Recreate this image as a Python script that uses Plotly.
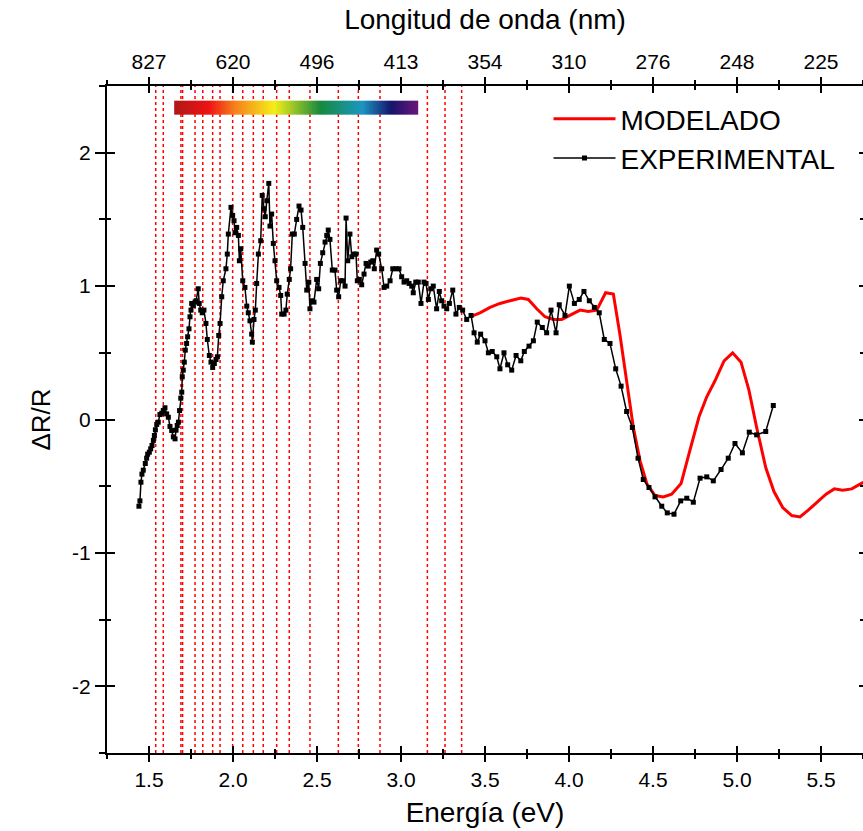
import numpy as np
import plotly.graph_objects as go

# ---------------- data ----------------
exp_energy = [
    1.440, 1.446, 1.452, 1.458, 1.466, 1.478, 1.486, 1.492, 1.502, 1.510,
    1.518, 1.526, 1.532, 1.538, 1.546, 1.555, 1.565, 1.576, 1.585, 1.595,
    1.605, 1.615, 1.625, 1.635, 1.645, 1.655, 1.661, 1.668, 1.675, 1.682,
    1.689, 1.695, 1.698, 1.704, 1.710, 1.716, 1.724, 1.730, 1.738, 1.744,
    1.750, 1.754, 1.764, 1.774, 1.780, 1.793, 1.799, 1.808, 1.817, 1.827,
    1.839, 1.847, 1.859, 1.869, 1.879, 1.889, 1.899, 1.907, 1.915, 1.923,
    1.933, 1.942, 1.958, 1.966, 1.972, 1.988, 1.998, 2.006, 2.012, 2.022,
    2.032, 2.038, 2.046, 2.058, 2.071, 2.082, 2.091, 2.101, 2.111, 2.115,
    2.125, 2.133, 2.141, 2.151, 2.165, 2.174, 2.185, 2.192, 2.201, 2.213,
    2.220, 2.230, 2.240, 2.250, 2.260, 2.274, 2.284, 2.290, 2.304, 2.315,
    2.323, 2.335, 2.343, 2.353, 2.365, 2.379, 2.393, 2.405, 2.415, 2.429,
    2.439, 2.451, 2.458, 2.470, 2.482, 2.498, 2.510, 2.520, 2.534, 2.548,
    2.558, 2.567, 2.577, 2.591, 2.607, 2.617, 2.629, 2.641, 2.653, 2.667,
    2.673, 2.683, 2.696, 2.707, 2.720, 2.732, 2.740, 2.752, 2.766, 2.780,
    2.792, 2.805, 2.820, 2.832, 2.841, 2.855, 2.867, 2.885, 2.899, 2.915,
    2.935, 2.951, 2.970, 2.988, 3.004, 3.018, 3.034, 3.048, 3.064, 3.073,
    3.088, 3.103, 3.119, 3.137, 3.149, 3.163, 3.177, 3.192, 3.212, 3.228,
    3.242, 3.256, 3.272, 3.288, 3.308, 3.327, 3.347, 3.367, 3.391, 3.417,
    3.435, 3.454, 3.474, 3.500, 3.520, 3.543, 3.570, 3.589, 3.613, 3.635,
    3.659, 3.685, 3.713, 3.734, 3.762, 3.788, 3.811, 3.841, 3.867, 3.893,
    3.923, 3.942, 3.976, 4.002, 4.032, 4.061, 4.089, 4.121, 4.151, 4.180,
    4.210, 4.244, 4.278, 4.310, 4.343, 4.377, 4.411, 4.442, 4.476, 4.512,
    4.552, 4.585, 4.625, 4.665, 4.701, 4.740, 4.780, 4.820, 4.859, 4.905,
    4.948, 4.988, 5.032, 5.073, 5.117, 5.171, 5.216,
]
exp_dr = [
    -0.65, -0.61, -0.47, -0.41, -0.38, -0.33, -0.29, -0.26, -0.245, -0.22,
    -0.195, -0.157, -0.12, -0.077, -0.037, -0.02, 0.037, 0.047, 0.067, 0.088,
    0.042, 0.017, -0.052, -0.082, -0.13, -0.145, -0.08, -0.045, -0.02, 0.067,
    0.16, 0.205, 0.32, 0.37, 0.43, 0.52, 0.57, 0.62, 0.68, 0.77,
    0.82, 0.87, 0.855, 0.88, 0.89, 0.98, 0.87, 0.82, 0.80, 0.82,
    0.72, 0.60, 0.48, 0.43, 0.39, 0.42, 0.45, 0.47, 0.63, 0.72,
    0.92, 1.04, 1.13, 1.24, 1.39, 1.59, 1.53, 1.49, 1.40, 1.44,
    1.38, 1.19, 1.28, 1.04, 0.99, 0.85, 0.80, 0.74, 0.64, 0.58,
    0.75, 0.82, 1.02, 1.24, 1.34, 1.68, 1.58, 1.52, 1.64, 1.77,
    1.45, 1.54, 1.32, 1.19, 1.04, 0.99, 0.93, 0.79, 0.79, 0.82,
    0.94, 1.05, 1.13, 1.39, 1.39, 1.50, 1.60, 1.57, 1.44, 1.17,
    0.97, 1.03, 0.83, 0.89, 0.88, 1.05, 0.98, 1.17, 1.25, 1.33,
    1.38, 1.42, 1.35, 1.12, 1.12, 0.97, 0.92, 1.04, 1.04, 1.00,
    1.51, 1.19, 1.39, 1.22, 1.24, 1.24, 1.04, 1.05, 1.01, 1.09,
    1.17, 1.15, 1.18, 1.19, 1.13, 1.27, 1.24, 1.13, 0.99, 1.00,
    1.04, 1.13, 1.13, 1.13, 1.07, 1.03, 1.04, 1.02, 1.00, 0.95,
    1.03, 1.03, 0.87, 1.03, 1.02, 0.90, 0.98, 1.00, 0.83, 0.96,
    0.89, 0.85, 0.83, 0.87, 0.97, 0.79, 0.84, 0.82, 0.75, 0.78,
    0.65, 0.58, 0.64, 0.59, 0.50, 0.51, 0.47, 0.38, 0.50, 0.41,
    0.37, 0.48, 0.44, 0.51, 0.55, 0.59, 0.73, 0.69, 0.65, 0.82,
    0.65, 0.86, 0.78, 1.00, 0.87, 0.90, 0.96, 0.89, 0.84, 0.80,
    0.60, 0.57, 0.38, 0.25, 0.06, -0.06, -0.29, -0.45, -0.51, -0.58,
    -0.65, -0.70, -0.71, -0.61, -0.59, -0.62, -0.44, -0.43, -0.46, -0.375,
    -0.29, -0.18, -0.25, -0.095, -0.115, -0.09, 0.105,
]

mod_energy = [
    3.411, 3.470, 3.530, 3.589, 3.649, 3.714, 3.758, 3.808, 3.857, 3.907,
    3.957, 4.006, 4.066, 4.115, 4.165, 4.218, 4.264, 4.304, 4.343, 4.383,
    4.423, 4.463, 4.512, 4.561, 4.611, 4.667, 4.720, 4.774, 4.820, 4.869,
    4.923, 4.974, 5.024, 5.071, 5.117, 5.171, 5.220, 5.272, 5.326, 5.375,
    5.424, 5.474, 5.530, 5.579, 5.629, 5.683, 5.752,
]
mod_dr = [
    0.77, 0.80, 0.84, 0.87, 0.89, 0.91, 0.90, 0.83, 0.77, 0.75,
    0.75, 0.78, 0.82, 0.81, 0.82, 0.95, 0.94, 0.63, 0.30, -0.06,
    -0.31, -0.48, -0.57, -0.58, -0.56, -0.48, -0.23, 0.02, 0.17, 0.29,
    0.44, 0.50, 0.43, 0.22, -0.06, -0.36, -0.54, -0.66, -0.72, -0.73,
    -0.68, -0.62, -0.56, -0.52, -0.53, -0.52, -0.47,
]

# energies of the red dotted reference lines (eV)
transition_ev = [
    1.540, 1.585, 1.690, 1.700, 1.774, 1.820, 1.879, 1.923, 1.998, 2.058,
    2.121, 2.180, 2.260, 2.335, 2.458, 2.627, 2.746, 2.875, 3.157, 3.262,
    3.361,
]

energy_tickvals = [1.5, 2.0, 2.5, 3.0, 3.5, 4.0, 4.5, 5.0, 5.5]
energy_ticktext = ["1.5", "2.0", "2.5", "3.0", "3.5", "4.0", "4.5", "5.0", "5.5"]
wavelength_ticktext = ["827", "620", "496", "413", "354", "310", "276", "248", "225"]
dr_tickvals = [-2, -1, 0, 1, 2]
dr_ticktext = ["-2", "-1", "0", "1", "2"]

# visible-spectrum bar (energy span and vertical span in ΔR/R units)
spectrum_ev = [1.65, 3.10]
spectrum_dr = [2.285, 2.39]
spectrum_colorscale = [
    [0.00, "#b01818"], [0.14, "#ee1212"], [0.25, "#f7821c"],
    [0.41, "#f4ee18"], [0.50, "#8cbf2a"], [0.60, "#16893c"],
    [0.68, "#18907c"], [0.77, "#1c96c2"], [0.89, "#15156e"],
    [1.00, "#6a1678"],
]

X_RANGE = [1.25, 5.75]
Y_RANGE = [-2.5, 2.5]
FONT = "Liberation Sans, Arial, Helvetica, sans-serif"

fig = go.Figure()

# spectrum bar
n_cols = 300
sx = np.linspace(spectrum_ev[0], spectrum_ev[1], n_cols + 1)
sz = [list(0.5 * (sx[:-1] + sx[1:]))]
fig.add_trace(go.Heatmap(
    x=sx, y=spectrum_dr, z=sz, colorscale=spectrum_colorscale,
    showscale=False, hoverinfo="skip", xaxis="x", yaxis="y",
))

# red dotted vertical lines
for e in transition_ev:
    fig.add_shape(type="line", xref="x", yref="paper", x0=e, x1=e, y0=0, y1=1,
                  line=dict(color="#ff0000", width=1.5, dash="dot"), layer="below")

fig.add_trace(go.Scatter(
    x=mod_energy, y=mod_dr, mode="lines", name="MODELADO",
    line=dict(color="#ff0000", width=3), xaxis="x", yaxis="y",
))
fig.add_trace(go.Scatter(
    x=exp_energy, y=exp_dr, mode="lines+markers", name="EXPERIMENTAL",
    line=dict(color="#000000", width=1.5),
    marker=dict(symbol="square", size=5, color="#000000"),
    xaxis="x", yaxis="y",
))

# dummy traces so the overlay axes are drawn
for xa, ya in [("x2", "y"), ("x3", "y"), ("x4", "y"), ("x", "y2"), ("x", "y3")]:
    fig.add_trace(go.Scatter(x=[None], y=[None], xaxis=xa, yaxis=ya,
                             showlegend=False, hoverinfo="skip"))

common_x = dict(range=X_RANGE, showgrid=False, zeroline=False, tickwidth=2,
                tickcolor="black", tickvals=energy_tickvals)
common_y = dict(range=Y_RANGE, showgrid=False, zeroline=False, tickwidth=2,
                tickcolor="black", tickvals=dr_tickvals)

fig.update_layout(
    width=863, height=831,
    margin=dict(l=107, r=0, t=86, b=78, autoexpand=False),
    paper_bgcolor="white", plot_bgcolor="white",
    font=dict(family=FONT, color="black", size=21),
    showlegend=True,
    legend=dict(x=0.584, y=0.988, xanchor="left", yanchor="top",
                font=dict(family=FONT, size=28), bgcolor="rgba(0,0,0,0)",
                itemwidth=62, tracegroupgap=0),
    xaxis=dict(**common_x, side="bottom", ticktext=energy_ticktext,
               ticks="outside", ticklen=7, showline=True, linewidth=2,
               linecolor="black",
               minor=dict(dtick=0.25, tick0=0, ticks="outside", ticklen=4,
                          tickwidth=2, tickcolor="black"),
               tickfont=dict(size=21),
               title=dict(text="Energía (eV)", font=dict(size=28), standoff=12)),
    xaxis2=dict(**common_x, side="top", overlaying="x", ticktext=wavelength_ticktext,
                ticks="outside", ticklen=7, showline=True, linewidth=2,
                linecolor="black",
                minor=dict(dtick=0.25, tick0=0, ticks="outside", ticklen=4,
                           tickwidth=2, tickcolor="black"),
                tickfont=dict(size=21),
                title=dict(text="Longitud de onda (nm)", font=dict(size=28), standoff=12)),
    xaxis3=dict(**common_x, side="bottom", overlaying="x", ticks="inside",
                ticklen=7, showticklabels=False, showline=False,
                minor=dict(dtick=0.25, tick0=0, ticks="inside", ticklen=4,
                           tickwidth=2, tickcolor="black")),
    xaxis4=dict(**common_x, side="top", overlaying="x", ticks="inside",
                ticklen=7, showticklabels=False, showline=False,
                minor=dict(dtick=0.25, tick0=0, ticks="inside", ticklen=4,
                           tickwidth=2, tickcolor="black")),
    yaxis=dict(**common_y, side="left", ticktext=dr_ticktext, ticks="outside",
               ticklen=10, showline=True, linewidth=2, linecolor="black",
               minor=dict(dtick=0.5, tick0=0, ticks="outside", ticklen=6,
                          tickwidth=2, tickcolor="black"),
               tickfont=dict(size=21),
               title=dict(text="ΔR/R", font=dict(size=26), standoff=14)),
    yaxis2=dict(**common_y, side="left", overlaying="y", ticks="inside",
                ticklen=8, showticklabels=False, showline=False,
                minor=dict(dtick=0.5, tick0=0, ticks="inside", ticklen=4,
                           tickwidth=2, tickcolor="black")),
    yaxis3=dict(**common_y, side="right", overlaying="y", ticks="inside",
                ticklen=4, showticklabels=False, showline=False,
                minor=dict(dtick=0.5, tick0=0, ticks="inside", ticklen=3,
                           tickwidth=2, tickcolor="black")),
)

fig.write_html("out.html")
